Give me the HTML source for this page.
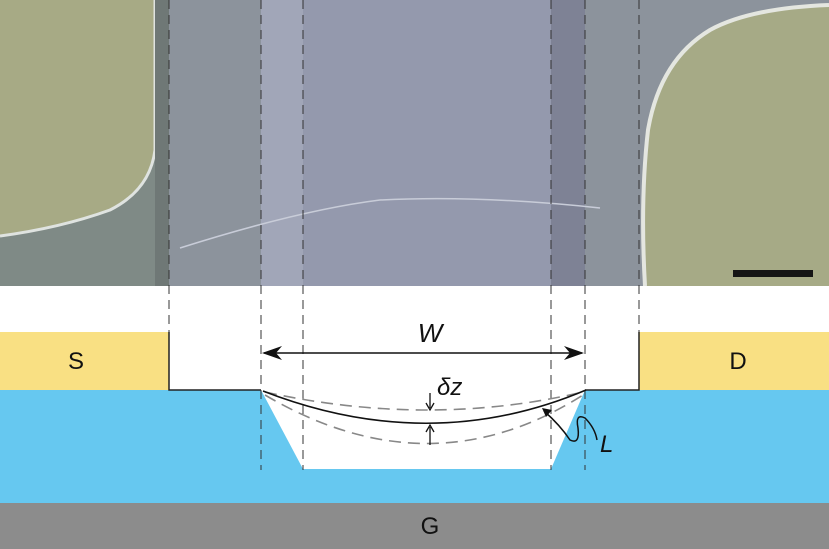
<!DOCTYPE html>
<html><head><style>
body{margin:0;width:829px;height:549px;overflow:hidden;background:#fff}
svg{display:block}
</style></head><body>
<svg width="829" height="549" viewBox="0 0 829 549" xmlns="http://www.w3.org/2000/svg" font-family="Liberation Sans, sans-serif">
<!-- photo -->
<rect x="0" y="0" width="829" height="286" fill="#8c939c"/>
<path d="M0 236Q60 228 110 210Q150 190 155 150V0H169V286H0Z" fill="#7f8a86"/>
<path d="M0 0H155V150Q150 190 110 210Q60 228 0 236Z" fill="#a7aa85"/>
<path d="M155 0V150Q150 190 110 210Q60 228 0 236" fill="none" stroke="#dfe3e0" stroke-width="3"/>
<rect x="155" y="0" width="14" height="286" fill="#6f7876"/>
<rect x="261" y="0" width="42" height="286" fill="#a1a6b8"/>
<rect x="303" y="0" width="248" height="286" fill="#9499ad"/>
<rect x="551" y="0" width="34" height="286" fill="#7e8295"/>
<path d="M829 0V286H645Q640 200 648 130Q660 60 710 30Q750 8 829 5Z" fill="#a6aa86"/>
<path d="M645 286Q640 200 648 130Q660 60 710 30Q750 8 829 5" fill="none" stroke="#e4e6e0" stroke-width="4"/>
<path d="M180 248Q300 210 380 200Q480 195 600 208" fill="none" stroke="#c8ccd8" stroke-width="1.5"/>
<rect x="733" y="270" width="80" height="7" fill="#151515"/>
<!-- layers -->
<rect x="0" y="286" width="829" height="104" fill="#fff"/>
<rect x="0" y="332" width="169" height="58" fill="#f9e083"/>
<rect x="639" y="332" width="190" height="58" fill="#f9e083"/>
<rect x="0" y="390" width="829" height="113" fill="#66c8f0"/>
<polygon points="261,390 585,390 551,469 303,469" fill="#fff"/>
<rect x="0" y="503" width="829" height="46" fill="#8c8c8c"/>
<text x="430" y="534" font-size="24" text-anchor="middle" fill="#111">G</text>
<text x="76" y="369" font-size="24" text-anchor="middle" fill="#111">S</text>
<text x="738" y="369" font-size="24" text-anchor="middle" fill="#111">D</text>
<!-- outlines -->
<path d="M169 332V390H261M585 390H639V332" fill="none" stroke="#222" stroke-width="1.5"/>
<g stroke="#333" stroke-width="1" stroke-dasharray="9,6" fill="none">
<line x1="169" y1="0" x2="169" y2="332"/>
<line x1="639" y1="0" x2="639" y2="332"/>
<line x1="261" y1="0" x2="261" y2="470"/>
<line x1="303" y1="0" x2="303" y2="470"/>
<line x1="551" y1="0" x2="551" y2="470"/>
<line x1="585" y1="0" x2="585" y2="470"/>
</g>
<g stroke="#888" stroke-width="1.6" stroke-dasharray="12,7" fill="none">
<path d="M265 392Q430 428 583 392"/>
<path d="M265 395Q430 492 583 395"/>
</g>
<path d="M263 391Q430 456 586 390" fill="none" stroke="#111" stroke-width="1.6"/>
<!-- W arrow -->
<line x1="264" y1="353" x2="582" y2="353" stroke="#111" stroke-width="1.5"/>
<path d="M262 353L282 346L276 353L282 360Z" fill="#111"/>
<path d="M584 353L564 346L570 353L564 360Z" fill="#111"/>
<text x="430" y="342" font-size="26" font-style="italic" text-anchor="middle" fill="#111">W</text>
<text x="437" y="395" font-size="24" font-style="italic" fill="#111">δz</text>
<line x1="430" y1="393" x2="430" y2="408" stroke="#111" stroke-width="1.3"/>
<path d="M426 403L430 410L434 403" fill="none" stroke="#111" stroke-width="1.3"/>
<line x1="430" y1="445" x2="430" y2="427" stroke="#111" stroke-width="1.3"/>
<path d="M426 432L430 425L434 432" fill="none" stroke="#111" stroke-width="1.3"/>
<!-- L -->
<path d="M544 411Q560 425 570 440Q580 445 578 428Q575 413 585 418Q595 428 597 440" fill="none" stroke="#111" stroke-width="1.5"/>
<path d="M542 408L552 410L546 417Z" fill="#111"/>
<text x="600" y="452" font-size="24" font-style="italic" fill="#111">L</text>
</svg>
</body></html>
